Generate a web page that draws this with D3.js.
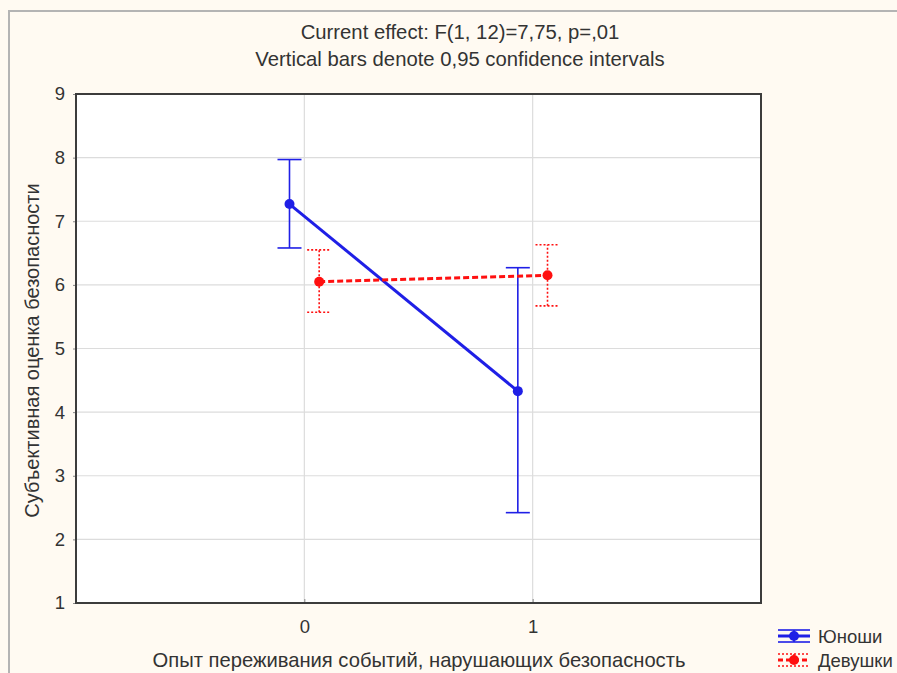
<!DOCTYPE html>
<html>
<head>
<meta charset="utf-8">
<script src="https://cdn.jsdelivr.net/npm/d3@7"></script>
<style>
  body { margin: 0; background: #fffaf2; }
  svg text { font-family: "Liberation Sans", Arial, sans-serif; fill: #333; }
</style>
</head>
<body>
<div id="chart"></div>
<script>
// data
var categories = [0, 1];
var groups = ["Юноши", "Девушки"];
var boysMean = [7.27, 4.33];
var boysLow = [6.58, 2.42];
var boysHigh = [7.97, 6.27];
var girlsMean = [6.05, 6.15];
var girlsLow = [5.57, 5.67];
var girlsHigh = [6.55, 6.63];
var yTicks = [1, 2, 3, 4, 5, 6, 7, 8, 9];
var titleLines = ["Current effect: F(1, 12)=7,75, p=,01", "Vertical bars denote 0,95 confidence intervals"];
var xTitle = "Опыт переживания событий, нарушающих безопасность";
var yTitle = "Субъективная оценка безопасности";

var W = 897, H = 673;
var margin = {top: 94, right: 136, bottom: 70, left: 76},
    width = W - margin.left - margin.right,
    height = H - margin.top - margin.bottom;

var svg = d3.select("#chart").append("svg")
  .attr("width", W)
  .attr("height", H);

// outer panel border (top + left gray edge)
svg.append("rect").attr("width", W).attr("height", H).attr("fill", "#fffaf2");
svg.append("path")
  .attr("d", "M9,673 V11 H897")
  .attr("fill", "none")
  .attr("stroke", "#b4b4b4")
  .attr("stroke-width", 2);

var g = svg.append("g")
  .attr("transform", "translate(" + margin.left + "," + margin.top + ")");

var x = d3.scaleLinear().domain([-1, 2]).range([0, width]);
var y = d3.scaleLinear().domain([1, 9]).range([height, 0]);

g.append("rect").attr("width", width).attr("height", height).attr("fill", "#fff");

// grid
g.selectAll(".hgrid").data(yTicks.slice(1, -1)).enter().append("line")
  .attr("x1", 0).attr("x2", width)
  .attr("y1", d => y(d)).attr("y2", d => y(d))
  .attr("stroke", "#dcdcdc").attr("stroke-width", 1.2);
g.selectAll(".vgrid").data(categories).enter().append("line")
  .attr("y1", 0).attr("y2", height)
  .attr("x1", d => x(d)).attr("x2", d => x(d))
  .attr("stroke", "#dcdcdc").attr("stroke-width", 1.2);

// axes
var leftAxis = d3.axisLeft(y).tickValues(yTicks).tickFormat(d3.format("d")).tickSize(3).tickPadding(8);
var bottomAxis = d3.axisBottom(x).tickValues(categories).tickFormat(d3.format("d")).tickSize(-4).tickPadding(17);

var ya = g.append("g").call(leftAxis);
var xa = g.append("g").attr("transform", "translate(0," + height + ")").call(bottomAxis);
[ya, xa].forEach(function(a) {
  a.select(".domain").remove();
  a.selectAll(".tick line").attr("stroke", "#888");
  a.selectAll("text").style("font-size", "18.5px").attr("fill", "#2a2a2a");
});

// frame
g.append("rect").attr("width", width).attr("height", height)
  .attr("fill", "none").attr("stroke", "#3c3c3c").attr("stroke-width", 2);

var off = 0.065;
var series = [
  {name: groups[0], mean: boysMean, lo: boysLow, hi: boysHigh, color: "#1f1fe6", dx: -off, dash: null, ebDash: null},
  {name: groups[1], mean: girlsMean, lo: girlsLow, hi: girlsHigh, color: "#ff1010", dx: off, dash: "6,3", ebDash: "2,2"}
];

var line = d3.line()
  .x(d => x(d.c + d.dx))
  .y(d => y(d.v));

series.forEach(function(s) {
  var pts = categories.map((c, i) => ({c: c, dx: s.dx, v: s.mean[i], lo: s.lo[i], hi: s.hi[i]}));
  // error bars
  var eb = g.append("g").attr("stroke", s.color).attr("stroke-width", 1.6)
    .attr("stroke-dasharray", s.ebDash);
  pts.forEach(function(p) {
    var cx = x(p.c + p.dx);
    eb.append("line").attr("x1", cx).attr("x2", cx).attr("y1", y(p.lo)).attr("y2", y(p.hi));
    eb.append("line").attr("x1", cx - 12).attr("x2", cx + 12).attr("y1", y(p.lo)).attr("y2", y(p.lo));
    eb.append("line").attr("x1", cx - 12).attr("x2", cx + 12).attr("y1", y(p.hi)).attr("y2", y(p.hi));
  });
  g.append("path").datum(pts)
    .attr("d", line)
    .attr("fill", "none")
    .attr("stroke", s.color)
    .attr("stroke-width", 3)
    .attr("stroke-dasharray", s.dash);
  g.selectAll(null).data(pts).enter().append("circle")
    .attr("cx", d => x(d.c + d.dx)).attr("cy", d => y(d.v))
    .attr("r", 5).attr("fill", s.color);
});

// titles
svg.selectAll(".title").data(titleLines).enter().append("text")
  .attr("x", 460).attr("y", (d, i) => 39 + i * 27)
  .attr("text-anchor", "middle")
  .style("font-size", "20.3px")
  .text(d => d);

svg.append("text")
  .attr("x", 419).attr("y", 667)
  .attr("text-anchor", "middle")
  .style("font-size", "20.2px")
  .text(xTitle);

svg.append("text")
  .attr("transform", "translate(39," + (margin.top + height / 2 + 2) + ") rotate(-90)")
  .attr("text-anchor", "middle")
  .style("font-size", "20px")
  .text(yTitle);

// legend
var leg = svg.append("g").attr("transform", "translate(778,636)");
series.forEach(function(s, i) {
  var row = leg.append("g").attr("transform", "translate(0," + i * 24 + ")")
    .attr("stroke", s.color);
  var dash = i ? "2,2" : null;
  row.append("line").attr("x1", 0).attr("x2", 32).attr("y1", -6).attr("y2", -6)
    .attr("stroke-width", 1.6).attr("stroke-dasharray", dash);
  row.append("line").attr("x1", 0).attr("x2", 32).attr("y1", 6).attr("y2", 6)
    .attr("stroke-width", 1.6).attr("stroke-dasharray", dash);
  row.append("line").attr("x1", 16).attr("x2", 16).attr("y1", -6).attr("y2", 6)
    .attr("stroke-width", 1.6).attr("stroke-dasharray", dash);
  row.append("line").attr("x1", 0).attr("x2", 32).attr("y1", 0).attr("y2", 0)
    .attr("stroke-width", 3).attr("stroke-dasharray", i ? "5,3" : null);
  row.append("circle").attr("cx", 16).attr("cy", 0).attr("r", 5)
    .attr("fill", s.color).attr("stroke", "none");
  row.append("text").attr("x", 40).attr("y", 7)
    .attr("stroke", "none")
    .style("font-size", "18.5px")
    .text(s.name);
});
</script>
</body>
</html>
